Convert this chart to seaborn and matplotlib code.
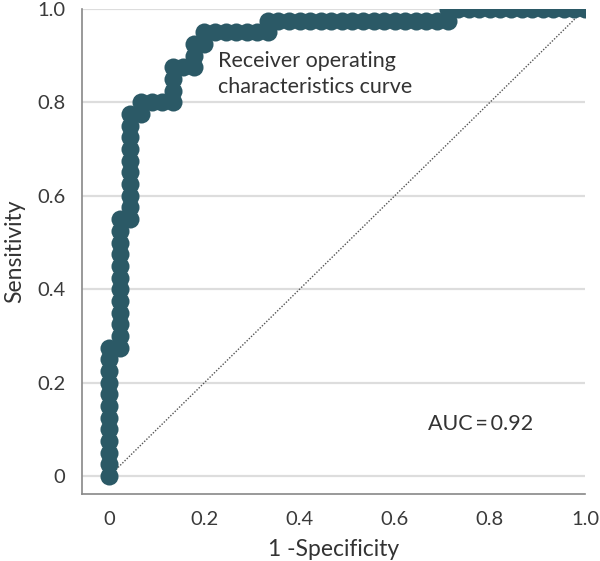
import numpy as np
import pandas as pd
import matplotlib.pyplot as plt
import seaborn as sns

# cases ranked by predicted score (P = positive, N = negative), one marker each
ranked_outcomes = (
    "PPPPPPPPPPP" "N" "PPPPPPPPPPP" "N" "PPPPPPPPP" "N" "P" "NNN" "PPP"
    "NN" "PP" "N" "P" "NNNNNN" "P" "NNNNNNNNNNNNNNNNN" "P" "NNNNNNNNNNNNN"
)
auc_text = "AUC\u2009=\u20090.92"
curve_label = "Receiver operating\ncharacteristics curve"
tick_vals = [0, 0.2, 0.4, 0.6, 0.8, 1.0]
tick_labels = ["0", "0.2", "0.4", "0.6", "0.8", "1.0"]

is_pos = np.array([c == "P" for c in ranked_outcomes])
tpr = np.concatenate([[0], np.cumsum(is_pos) / is_pos.sum()])
fpr = np.concatenate([[0], np.cumsum(~is_pos) / (~is_pos).sum()])
df = pd.DataFrame({"fpr": fpr, "tpr": tpr})

sns.set_style("white")
plt.rcParams["font.family"] = ["Lato", "DejaVu Sans"]

fig = plt.figure(figsize=(6, 5.61), dpi=100)
ax = fig.add_axes([0.137, 0.119, 0.838, 0.865])

for y in tick_vals:
    ax.axhline(y, color="#dddddd", lw=1.6, zorder=0)

ax.plot([0, 1], [0, 1], color="#555555", ls=(0, (1, 1.2)), lw=1.0, zorder=1)

teal = "#2b5966"
sns.lineplot(data=df, x="fpr", y="tpr", sort=False, estimator=None, ax=ax,
             color=teal, lw=9, marker="o", markersize=13, markeredgewidth=0,
             zorder=3)

ax.set_xlim(-0.057, 1.0)
ax.set_ylim(-0.039, 1.0)
ax.set_xticks(tick_vals)
ax.set_xticklabels(tick_labels)
ax.set_yticks(tick_vals)
ax.set_yticklabels(tick_labels)
ax.tick_params(axis="both", direction="out", length=6, width=1, color="#888888",
               labelsize=14.5, labelcolor="#3a3a3a", pad=6)
for side in ["top", "right"]:
    ax.spines[side].set_visible(False)
for side in ["left", "bottom"]:
    ax.spines[side].set_color("#888888")
    ax.spines[side].set_linewidth(1.2)

ax.set_xlabel("1 -Specificity", fontsize=16.5, color="#333333", labelpad=8)
ax.set_ylabel("Sensitivity", fontsize=16.5, color="#333333", labelpad=9)

ax.text(0.229, 0.91, curve_label, fontsize=15.5, color="#333333",
        ha="left", va="top", linespacing=1.35)
ax.text(0.67, 0.112, auc_text, fontsize=15.5, color="#333333",
        ha="left", va="center")

fig.savefig("out.png", dpi=100)
